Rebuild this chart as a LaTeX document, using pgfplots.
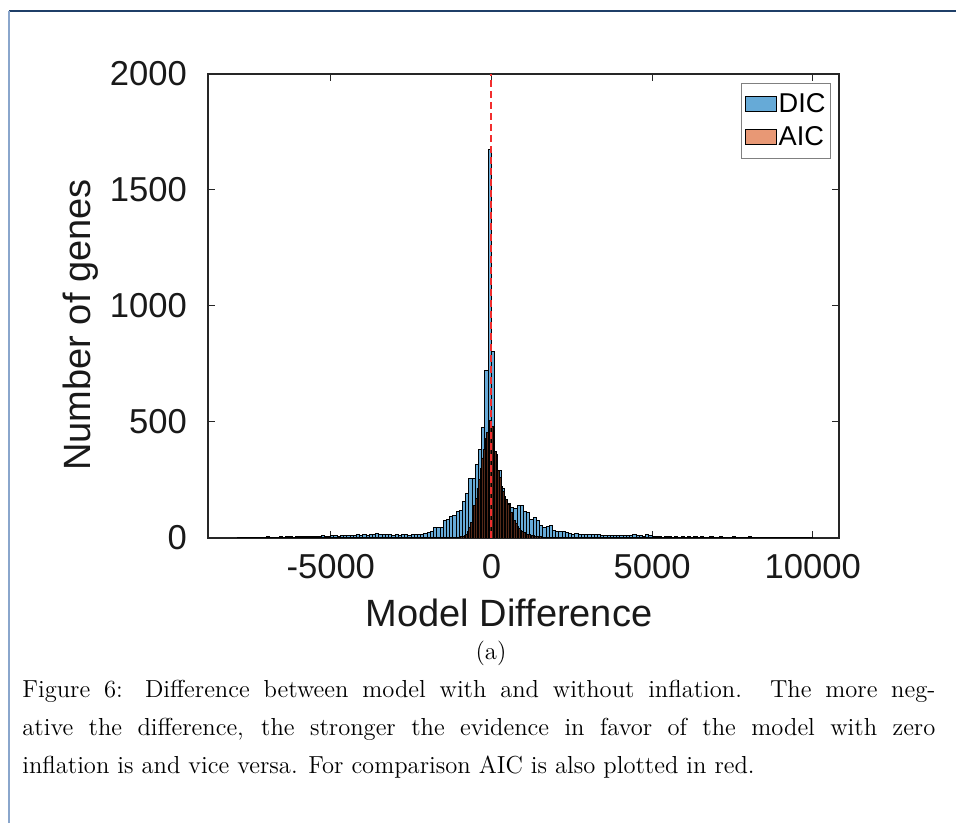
\documentclass[border=0pt]{standalone}
\usepackage{fontspec}
\usepackage{pgfplots}
\usepackage{pgfplotstable}
\pgfplotsset{compat=1.18}
\newfontfamily\arialfont{Liberation Sans}
\definecolor{dicfill}{rgb}{0.40,0.668,0.845}
\definecolor{aicfill}{rgb}{0.91,0.595,0.459}
\definecolor{aicdark}{rgb}{0.33,0.16,0.10}
\definecolor{axgray}{rgb}{0.15,0.15,0.15}
\definecolor{framedark}{HTML}{1F3F68}
\definecolor{framelight}{HTML}{8AA6CC}
\definecolor{dashred}{rgb}{0.95,0.18,0.18}

\pgfplotstableread{
x y
-7900 2
-7800 3
-7700 2
-7600 3
-7500 4
-7400 2
-7300 3
-7200 4
-7100 3
-7000 5
-6900 3
-6800 4
-6700 3
-6600 5
-6500 4
-6400 5
-6300 6
-6200 4
-6100 7
-6000 5
-5900 8
-5800 6
-5700 7
-5600 6
-5500 8
-5400 7
-5300 9
-5200 8
-5100 7
-5000 9
-4900 10
-4800 8
-4700 11
-4600 9
-4500 12
-4400 10
-4300 11
-4200 13
-4100 12
-4000 14
-3900 12
-3800 16
-3700 15
-3600 19
-3500 14
-3400 17
-3300 15
-3200 13
-3100 12
-3000 14
-2900 11
-2800 15
-2700 13
-2600 12
-2500 16
-2400 14
-2300 13
-2200 15
-2100 18
-2000 23
-1900 27
-1800 44
-1700 46
-1600 46
-1500 75
-1400 78
-1300 92
-1200 95
-1100 113
-1000 118
-900 157
-800 193
-700 255
-600 257
-500 315
-400 382
-300 477
-200 724
-100 1675
0 803
100 362
200 290
300 214
400 164
500 150
600 132
700 128
800 142
900 142
1000 113
1100 110
1200 78
1300 89
1400 76
1500 52
1600 46
1700 50
1800 52
1900 34
2000 30
2100 27
2200 27
2300 23
2400 20
2500 17
2600 19
2700 16
2800 16
2900 14
3000 16
3100 13
3200 15
3300 13
3400 12
3500 10
3600 12
3700 10
3800 11
3900 12
4000 10
4100 9
4200 11
4300 10
4400 16
4500 9
4600 10
4700 8
4800 16
4900 9
5000 6
5100 5
5200 6
5300 4
5400 6
5500 5
5600 4
5700 6
5800 4
5900 5
6000 4
6100 6
6200 3
6300 5
6400 4
6500 5
6600 3
6700 4
6800 5
6900 3
7000 4
7100 5
7200 3
7300 4
7400 3
7500 5
7600 4
7700 3
7800 4
7900 3
8000 5
8100 3
8200 4
8300 3
8400 2
8500 4
8600 3
8700 2
8800 3
8900 4
9000 2
9100 3
9200 2
9300 3
9400 4
9500 2
9600 3
9700 2
9800 3
9900 2
10000 0
}\dicdata

\pgfplotstableread{
x y
-1100 2
-1050 3
-1000 3
-950 5
-900 6
-850 10
-800 14
-750 28
-700 45
-650 65
-600 100
-550 140
-500 172
-450 215
-400 252
-350 300
-300 345
-250 380
-200 430
-150 455
-100 490
-50 505
0 480
50 440
100 372
150 330
200 290
250 262
300 222
350 200
400 178
450 165
500 145
550 125
600 108
650 90
700 75
750 62
800 50
850 40
900 33
950 27
1000 22
1050 19
1100 16
1150 14
1200 12
1250 11
1300 9
1350 8
1400 7
1450 6
1500 5
1550 5
1600 4
1650 4
1700 3
1750 3
1800 2
1850 2
1900 2
1950 1
2000 1
2050 1
2100 1
2150 1
2200 0
}\aicdata

\begin{document}
\begin{tikzpicture}[x=1pt,y=1pt]
\path[use as bounding box] (0,0) rectangle (478,411.5);
\draw[framedark, line width=0.9pt] (4.5,406) -- (478,406);
\draw[framelight, line width=0.7pt] (4.5,0) -- (4.5,406);
\begin{axis}[
  at={(104pt,142.5pt)}, anchor=south west,
  width=315.5pt, height=232pt, scale only axis,
  xmin=-8820, xmax=10817, ymin=0, ymax=2000,
  scaled x ticks=false, scaled y ticks=false,
  xtick={-5000,0,5000,10000}, xticklabels={-5000,0,5000,10000},
  ytick={0,500,1000,1500,2000}, yticklabels={0,500,1000,1500,2000},
  tick align=inside, major tick length=3.5pt,
  axis line style={axgray, line width=0.6pt},
  tick style={axgray, line width=0.5pt},
  ticklabel style={font=\arialfont\fontsize{17.3}{17.3}\selectfont, text=black!90},
  yticklabel style={xshift=-7pt},
  xticklabel style={yshift=-4.5pt},
  xlabel={Model Difference}, ylabel={Number of genes},
  label style={font=\arialfont\fontsize{19}{19}\selectfont, text=black!90},
  xlabel style={at={(axis description cs:0.477,-0.1616)}, anchor=center},
  ylabel style={at={(axis description cs:-0.2013,0.459)}, anchor=center},
  legend style={
    at={(rel axis cs:1,1)}, anchor=north east, xshift=-4pt, yshift=-4.5pt,
    draw=black!50, line width=0.5pt, fill=white,
    font=\arialfont\fontsize{13.6}{13.6}\selectfont,
    inner xsep=1.5pt, inner ysep=4pt, row sep=3.5pt,
    nodes={inner xsep=1pt, inner ysep=1pt},
  },
  legend cell align=left,
]
\addplot[ybar interval, fill=dicfill, draw=black, line width=0.5pt,
  legend image code/.code={\draw[black, line width=0.5pt, fill=dicfill] (0pt,-3.75pt) rectangle (15.5pt,3.75pt);}]
  table[x=x,y=y] {\dicdata};
\addlegendentry{DIC}
\addplot[ybar interval, fill=aicdark, draw=black, line width=0.45pt,
  legend image code/.code={\draw[black, line width=0.5pt, fill=aicfill] (0pt,-3.75pt) rectangle (15.5pt,3.75pt);}]
  table[x=x,y=y] {\aicdata};
\addlegendentry{AIC}
\addplot[forget plot, dashred, line width=1pt, dash pattern=on 3.7pt off 1.8pt] coordinates {(0,0) (0,2000)};
\end{axis}
\node[anchor=center, font=\fontsize{12.3}{14.5}\selectfont] at (245.5,85) {(a)};
\node[anchor=base west, inner sep=0pt, font=\fontsize{12.3}{14.5}\selectfont] at (11,62.5) {\makebox[456.5pt][s]{Figure 6: Difference between model with and without inflation. The more neg-}};
\node[anchor=base west, inner sep=0pt, font=\fontsize{12.3}{14.5}\selectfont] at (11,43.75) {\makebox[456.5pt][s]{ative the difference, the stronger the evidence in favor of the model with zero}};
\node[anchor=base west, inner sep=0pt, font=\fontsize{12.3}{14.5}\selectfont] at (11,25) {inflation is and vice versa. For comparison AIC is also plotted in red.};
\end{tikzpicture}
\end{document}
